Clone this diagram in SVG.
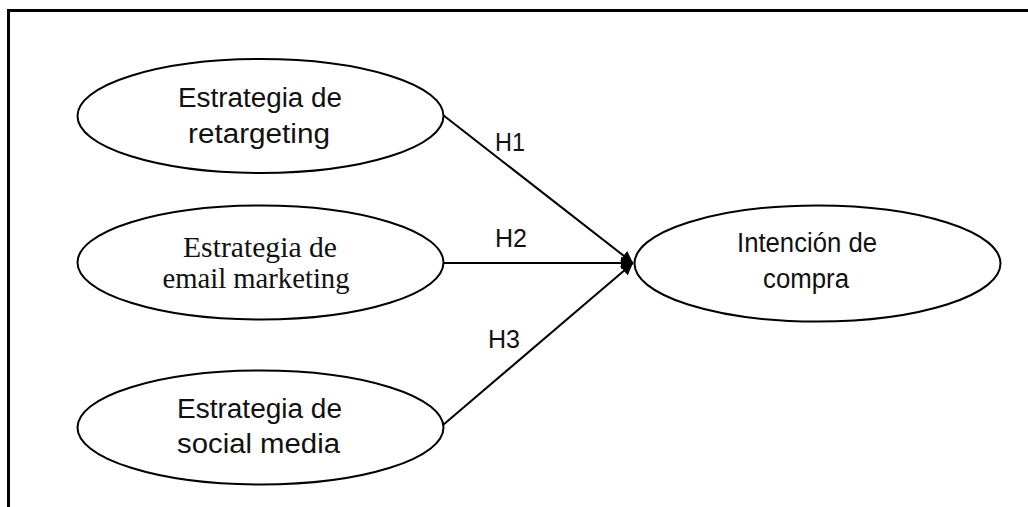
<svg xmlns="http://www.w3.org/2000/svg" width="1028" height="507" viewBox="0 0 1028 507">
  <defs>
    <marker id="arrow" viewBox="0 0 10 10" refX="10" refY="5" markerWidth="6" markerHeight="6" markerUnits="strokeWidth" orient="auto">
      <path d="M0,0 L10,5 L0,10 z" fill="#000"/>
    </marker>
    <style>
      .node ellipse { fill: #fff; stroke: #000; stroke-width: 2; }
      .sans { font-family: "Liberation Sans", Arial, sans-serif; font-size: 27px; fill: #111; text-anchor: middle; }
      .serif { font-family: "Liberation Serif", "Times New Roman", serif; font-size: 30px; fill: #111; text-anchor: middle; }
      .edge { stroke: #000; stroke-width: 2; fill: none; }
      .label { font-family: "Liberation Sans", Arial, sans-serif; font-size: 26px; fill: #111; }
    </style>
  </defs>

  <rect width="1028" height="507" fill="#fff"/>

  <!-- frame: top and left rules only -->
  <path d="M8.5,507 L8.5,10.5 L1028,10.5" fill="none" stroke="#000" stroke-width="3"/>

  <g id="connectors">
    <line class="edge" x1="443" y1="115" x2="633" y2="263" marker-end="url(#arrow)"/>
    <line class="edge" x1="444" y1="263" x2="633" y2="263" marker-end="url(#arrow)"/>
    <line class="edge" x1="443" y1="425" x2="633" y2="263" marker-end="url(#arrow)"/>
    <text class="label" x="495" y="151" textLength="30" lengthAdjust="spacingAndGlyphs">H1</text>
    <text class="label" x="495" y="247" textLength="32" lengthAdjust="spacingAndGlyphs">H2</text>
    <text class="label" x="488" y="348" textLength="32" lengthAdjust="spacingAndGlyphs">H3</text>
  </g>

  <g id="retargeting" class="node">
    <ellipse cx="260.5" cy="116" rx="183" ry="57"/>
    <text class="sans" x="260" y="107" textLength="164" lengthAdjust="spacingAndGlyphs">Estrategia de</text>
    <text class="sans" x="259" y="143" textLength="142" lengthAdjust="spacingAndGlyphs">retargeting</text>
  </g>

  <g id="email-marketing" class="node">
    <ellipse cx="260.5" cy="262.5" rx="183" ry="57"/>
    <text class="serif" x="260" y="257" textLength="154" lengthAdjust="spacingAndGlyphs">Estrategia de</text>
    <text class="serif" x="256" y="288" textLength="187" lengthAdjust="spacingAndGlyphs">email marketing</text>
  </g>

  <g id="social-media" class="node">
    <ellipse cx="260.5" cy="427.5" rx="183" ry="57"/>
    <text class="sans" x="259.5" y="418" textLength="165" lengthAdjust="spacingAndGlyphs">Estrategia de</text>
    <text class="sans" x="258.5" y="453" textLength="163" lengthAdjust="spacingAndGlyphs">social media</text>
  </g>

  <g id="intencion-compra" class="node">
    <ellipse cx="817.5" cy="263.5" rx="183" ry="58"/>
    <text class="sans" x="807" y="252" textLength="140" lengthAdjust="spacingAndGlyphs">Intención de</text>
    <text class="sans" x="806" y="288" textLength="86" lengthAdjust="spacingAndGlyphs">compra</text>
  </g>
</svg>
